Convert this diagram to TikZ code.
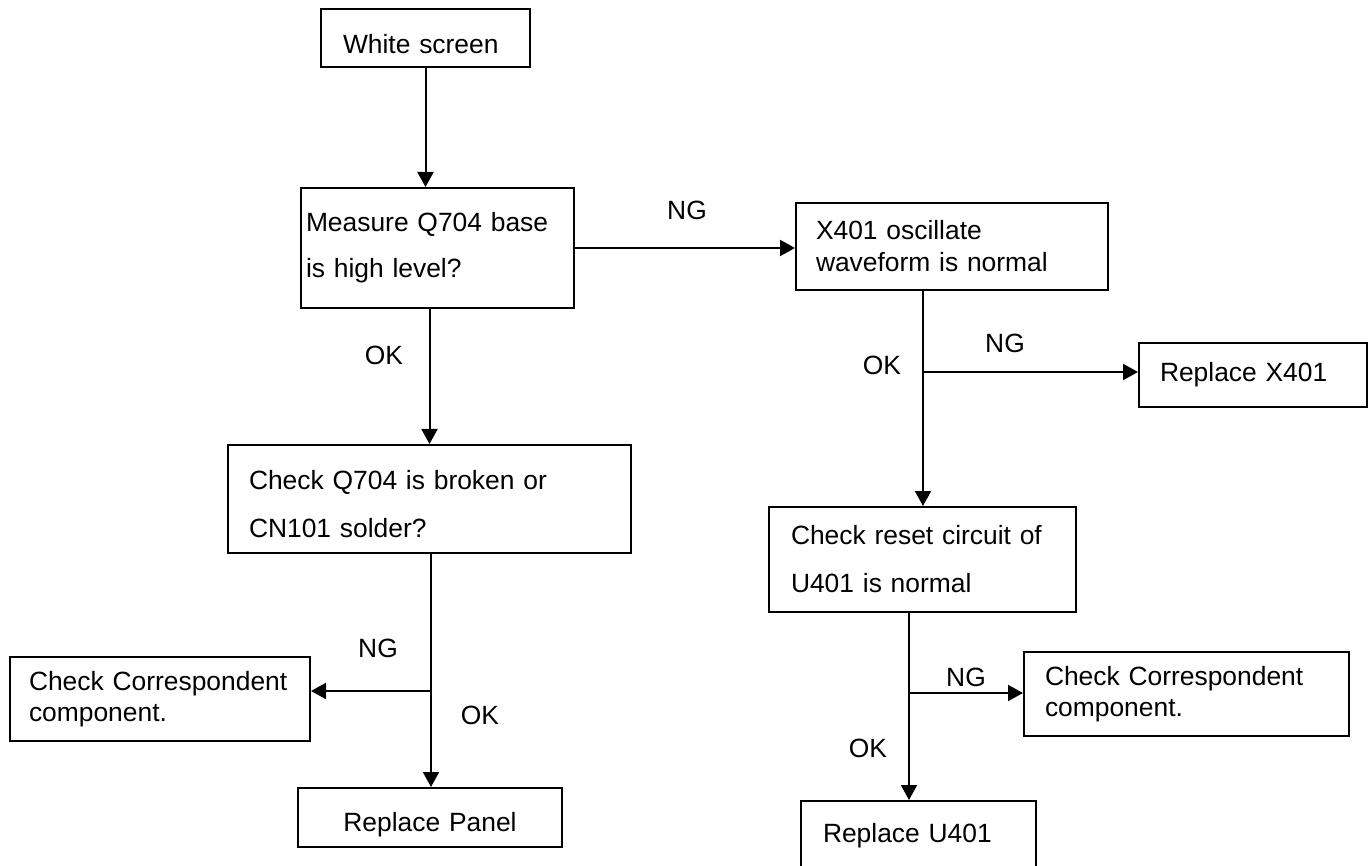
\documentclass[tikz,border=0pt]{standalone}
\usepackage{fontspec}
\setmainfont{Liberation Sans}
\usetikzlibrary{arrows.meta}

\begin{document}
\begin{tikzpicture}
  [x=0.5pt,y=-0.5pt,line width=1pt,
   box/.style={draw,rectangle,anchor=north west,align=left,inner ysep=0pt},
   big/.style={font=\fontsize{13.2}{#1}\selectfont},big/.default=16pt,
   lbl/.style={inner sep=0pt},
   arr/.style={-{Triangle[length=7.5pt,width=8pt]}}]
  \path[use as bounding box] (0,0) rectangle (1372,866);
  \clip (0,0) rectangle (1372,866);

  % left column
  \node[box,big,text width=82.5pt,inner xsep=11pt,minimum height=29pt,text height=15.6pt] (white) at (320,8) {White screen};
  \node[box,big=23pt,text width=131.5pt,inner xsep=2.5pt,minimum height=60pt] (measure) at (300,187) {Measure Q704 base\\is high level?};
  \node[box,big=24pt,text width=180.5pt,inner xsep=10.5pt,minimum height=54pt,text height=14.6pt] (check) at (227,444) {Check Q704 is broken or\\CN101 solder?};
  \node[box,big=15.5pt,text width=131pt,inner xsep=9.5pt,minimum height=42pt] (corrL) at (9,656) {Check Correspondent\\component.};
  \node[box,big,align=center,text width=112pt,inner xsep=10pt,minimum height=29.5pt,text height=16.6pt] (panel) at (297,787) {Replace Panel};

  % right column
  \node[box,big=16pt,text width=136pt,inner xsep=10pt,minimum height=43.5pt] (xosc) at (795,202) {X401 oscillate\\waveform is normal};
  \node[box,big,text width=93pt,inner xsep=10.5pt,minimum height=32pt] (repx) at (1138,342) {Replace X401};
  \node[box,big=24pt,text width=131.5pt,inner xsep=11pt,minimum height=52.5pt] (reset) at (768,506) {Check reset circuit of\\U401 is normal};
  \node[box,big=15.5pt,text width=141.5pt,inner xsep=10.5pt,minimum height=42pt] (corrR) at (1023,651) {Check Correspondent\\component.};
  \node[box,big,text width=95.5pt,inner xsep=11pt,minimum height=35pt] (repu) at (800,800) {Replace U401};

  % labels
  \node[lbl,big] (ng1) at (687,210) {NG};
  \node[lbl,big] (ok1) at (384,355) {OK};
  \node[lbl,big] (ok2) at (882,365) {OK};
  \node[lbl,big] (ng2) at (1005,343) {NG};
  \node[lbl,big] (ng3) at (378,648) {NG};
  \node[lbl,big] (ok3) at (480,715) {OK};
  \node[lbl,big] (ng4) at (966,677) {NG};
  \node[lbl,big] (ok4) at (868,748) {OK};

  \coordinate (jx) at (923,372);
  \coordinate (jl) at (431,691);
  \coordinate (jr) at (909,693);

  \draw[arr] (white.south) -- (white.south |- measure.north);
  \draw[arr] (measure.east) -- (measure.east -| xosc.west);
  \draw[arr] (measure.south -| check.north) -- (check.north);

  \draw (xosc.south -| jx) -- (jx);
  \draw[arr] (jx) -- (jx |- reset.north);
  \draw[arr] (jx) -- (jx -| repx.west);

  \draw (check.south -| jl) -- (jl);
  \draw[arr] (jl) -- (jl |- panel.north);
  \draw[arr] (jl) -- (jl -| corrL.east);

  \draw (reset.south -| jr) -- (jr);
  \draw[arr] (jr) -- (jr |- repu.north);
  \draw[arr] (jr) -- (jr -| corrR.west);
\end{tikzpicture}
\end{document}
